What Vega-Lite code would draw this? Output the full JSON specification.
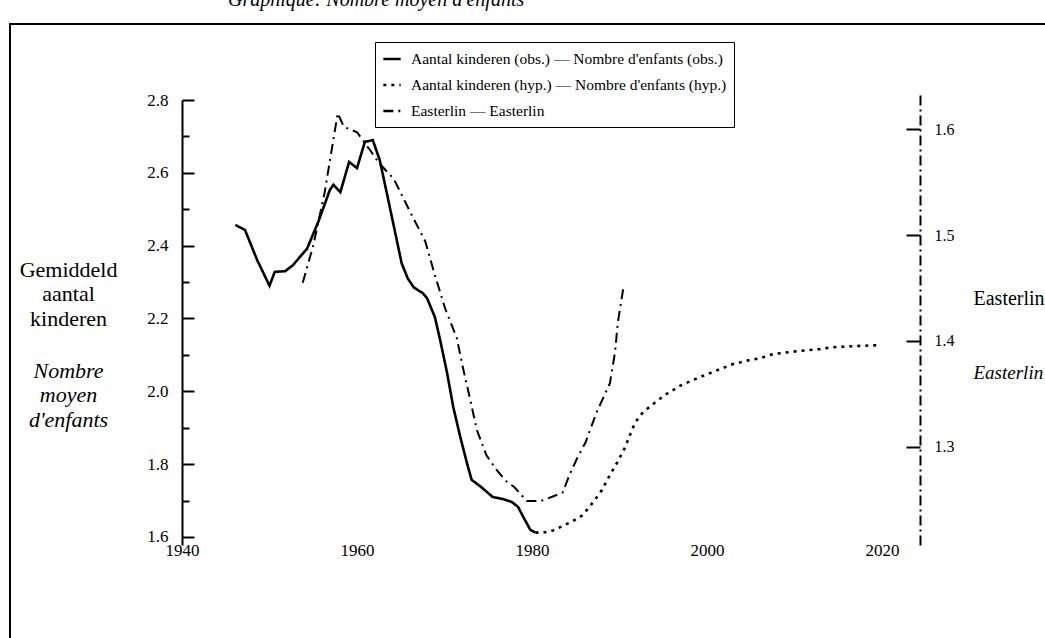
{
  "$schema": "https://vega.github.io/schema/vega-lite/v6.json",
  "width": 1040,
  "height": 620,
  "autosize": "none",
  "padding": {"left": 10, "top": 24, "right": 0, "bottom": 0},
  "background": "white",
  "config": {
    "font": "Liberation Serif",
    "view": {"stroke": "black", "strokeWidth": 2},
    "axis": {
      "labelFont": "Liberation Serif",
      "titleFont": "Liberation Serif",
      "domainColor": "black",
      "tickColor": "black",
      "labelColor": "black",
      "titleColor": "black",
      "grid": false,
      "titleFontWeight": "normal",
      "labelFontSize": 17,
      "titleFontSize": 22,
      "titleLineHeight": 24.5
    },
    "legend": {
      "labelFont": "Liberation Serif",
      "labelColor": "black"
    }
  },
  "title": {
    "text": "Graphique: Nombre moyen d'enfants",
    "anchor": "start",
    "frame": "group",
    "dx": 218,
    "dy": 6,
    "offset": 4,
    "baseline": "alphabetic",
    "font": "Liberation Serif",
    "fontStyle": "italic",
    "fontWeight": "normal",
    "fontSize": 20,
    "color": "black"
  },
  "datasets": {
    "fert": [
      {"year": 1946.1, "value": 2.457, "series": "Aantal kinderen (obs.) — Nombre d'enfants (obs.)"},
      {"year": 1947.2, "value": 2.443, "series": "Aantal kinderen (obs.) — Nombre d'enfants (obs.)"},
      {"year": 1948.6, "value": 2.36, "series": "Aantal kinderen (obs.) — Nombre d'enfants (obs.)"},
      {"year": 1950.0, "value": 2.29, "series": "Aantal kinderen (obs.) — Nombre d'enfants (obs.)"},
      {"year": 1950.6, "value": 2.328, "series": "Aantal kinderen (obs.) — Nombre d'enfants (obs.)"},
      {"year": 1951.8, "value": 2.33, "series": "Aantal kinderen (obs.) — Nombre d'enfants (obs.)"},
      {"year": 1952.7, "value": 2.347, "series": "Aantal kinderen (obs.) — Nombre d'enfants (obs.)"},
      {"year": 1954.3, "value": 2.392, "series": "Aantal kinderen (obs.) — Nombre d'enfants (obs.)"},
      {"year": 1955.6, "value": 2.467, "series": "Aantal kinderen (obs.) — Nombre d'enfants (obs.)"},
      {"year": 1956.9, "value": 2.553, "series": "Aantal kinderen (obs.) — Nombre d'enfants (obs.)"},
      {"year": 1957.3, "value": 2.567, "series": "Aantal kinderen (obs.) — Nombre d'enfants (obs.)"},
      {"year": 1958.1, "value": 2.547, "series": "Aantal kinderen (obs.) — Nombre d'enfants (obs.)"},
      {"year": 1959.1, "value": 2.63, "series": "Aantal kinderen (obs.) — Nombre d'enfants (obs.)"},
      {"year": 1960.0, "value": 2.613, "series": "Aantal kinderen (obs.) — Nombre d'enfants (obs.)"},
      {"year": 1960.9, "value": 2.685, "series": "Aantal kinderen (obs.) — Nombre d'enfants (obs.)"},
      {"year": 1961.8, "value": 2.69, "series": "Aantal kinderen (obs.) — Nombre d'enfants (obs.)"},
      {"year": 1962.6, "value": 2.635, "series": "Aantal kinderen (obs.) — Nombre d'enfants (obs.)"},
      {"year": 1963.5, "value": 2.534, "series": "Aantal kinderen (obs.) — Nombre d'enfants (obs.)"},
      {"year": 1964.3, "value": 2.443, "series": "Aantal kinderen (obs.) — Nombre d'enfants (obs.)"},
      {"year": 1965.1, "value": 2.352, "series": "Aantal kinderen (obs.) — Nombre d'enfants (obs.)"},
      {"year": 1965.8, "value": 2.31, "series": "Aantal kinderen (obs.) — Nombre d'enfants (obs.)"},
      {"year": 1966.5, "value": 2.285, "series": "Aantal kinderen (obs.) — Nombre d'enfants (obs.)"},
      {"year": 1967.5, "value": 2.27, "series": "Aantal kinderen (obs.) — Nombre d'enfants (obs.)"},
      {"year": 1968.0, "value": 2.256, "series": "Aantal kinderen (obs.) — Nombre d'enfants (obs.)"},
      {"year": 1968.9, "value": 2.204, "series": "Aantal kinderen (obs.) — Nombre d'enfants (obs.)"},
      {"year": 1969.5, "value": 2.141, "series": "Aantal kinderen (obs.) — Nombre d'enfants (obs.)"},
      {"year": 1970.3, "value": 2.05, "series": "Aantal kinderen (obs.) — Nombre d'enfants (obs.)"},
      {"year": 1971.0, "value": 1.957, "series": "Aantal kinderen (obs.) — Nombre d'enfants (obs.)"},
      {"year": 1971.8, "value": 1.875, "series": "Aantal kinderen (obs.) — Nombre d'enfants (obs.)"},
      {"year": 1972.6, "value": 1.8, "series": "Aantal kinderen (obs.) — Nombre d'enfants (obs.)"},
      {"year": 1973.1, "value": 1.757, "series": "Aantal kinderen (obs.) — Nombre d'enfants (obs.)"},
      {"year": 1974.2, "value": 1.737, "series": "Aantal kinderen (obs.) — Nombre d'enfants (obs.)"},
      {"year": 1975.5, "value": 1.71, "series": "Aantal kinderen (obs.) — Nombre d'enfants (obs.)"},
      {"year": 1976.7, "value": 1.704, "series": "Aantal kinderen (obs.) — Nombre d'enfants (obs.)"},
      {"year": 1977.7, "value": 1.696, "series": "Aantal kinderen (obs.) — Nombre d'enfants (obs.)"},
      {"year": 1978.4, "value": 1.683, "series": "Aantal kinderen (obs.) — Nombre d'enfants (obs.)"},
      {"year": 1979.0, "value": 1.655, "series": "Aantal kinderen (obs.) — Nombre d'enfants (obs.)"},
      {"year": 1979.8, "value": 1.62, "series": "Aantal kinderen (obs.) — Nombre d'enfants (obs.)"},
      {"year": 1980.4, "value": 1.612, "series": "Aantal kinderen (obs.) — Nombre d'enfants (obs.)"},
      {"year": 1980.4, "value": 1.612, "series": "Aantal kinderen (hyp.) — Nombre d'enfants (hyp.)"},
      {"year": 1981.3, "value": 1.612, "series": "Aantal kinderen (hyp.) — Nombre d'enfants (hyp.)"},
      {"year": 1982.4, "value": 1.618, "series": "Aantal kinderen (hyp.) — Nombre d'enfants (hyp.)"},
      {"year": 1983.5, "value": 1.63, "series": "Aantal kinderen (hyp.) — Nombre d'enfants (hyp.)"},
      {"year": 1984.7, "value": 1.644, "series": "Aantal kinderen (hyp.) — Nombre d'enfants (hyp.)"},
      {"year": 1985.8, "value": 1.66, "series": "Aantal kinderen (hyp.) — Nombre d'enfants (hyp.)"},
      {"year": 1987.0, "value": 1.696, "series": "Aantal kinderen (hyp.) — Nombre d'enfants (hyp.)"},
      {"year": 1988.0, "value": 1.729, "series": "Aantal kinderen (hyp.) — Nombre d'enfants (hyp.)"},
      {"year": 1988.9, "value": 1.77, "series": "Aantal kinderen (hyp.) — Nombre d'enfants (hyp.)"},
      {"year": 1989.7, "value": 1.803, "series": "Aantal kinderen (hyp.) — Nombre d'enfants (hyp.)"},
      {"year": 1990.6, "value": 1.844, "series": "Aantal kinderen (hyp.) — Nombre d'enfants (hyp.)"},
      {"year": 1991.2, "value": 1.88, "series": "Aantal kinderen (hyp.) — Nombre d'enfants (hyp.)"},
      {"year": 1991.8, "value": 1.915, "series": "Aantal kinderen (hyp.) — Nombre d'enfants (hyp.)"},
      {"year": 1992.7, "value": 1.943, "series": "Aantal kinderen (hyp.) — Nombre d'enfants (hyp.)"},
      {"year": 1994.1, "value": 1.97, "series": "Aantal kinderen (hyp.) — Nombre d'enfants (hyp.)"},
      {"year": 1995.2, "value": 1.99, "series": "Aantal kinderen (hyp.) — Nombre d'enfants (hyp.)"},
      {"year": 1996.9, "value": 2.015, "series": "Aantal kinderen (hyp.) — Nombre d'enfants (hyp.)"},
      {"year": 1998.4, "value": 2.031, "series": "Aantal kinderen (hyp.) — Nombre d'enfants (hyp.)"},
      {"year": 1999.5, "value": 2.042, "series": "Aantal kinderen (hyp.) — Nombre d'enfants (hyp.)"},
      {"year": 2001.5, "value": 2.061, "series": "Aantal kinderen (hyp.) — Nombre d'enfants (hyp.)"},
      {"year": 2003.0, "value": 2.075, "series": "Aantal kinderen (hyp.) — Nombre d'enfants (hyp.)"},
      {"year": 2004.9, "value": 2.086, "series": "Aantal kinderen (hyp.) — Nombre d'enfants (hyp.)"},
      {"year": 2006.1, "value": 2.091, "series": "Aantal kinderen (hyp.) — Nombre d'enfants (hyp.)"},
      {"year": 2007.5, "value": 2.102, "series": "Aantal kinderen (hyp.) — Nombre d'enfants (hyp.)"},
      {"year": 2009.5, "value": 2.108, "series": "Aantal kinderen (hyp.) — Nombre d'enfants (hyp.)"},
      {"year": 2011.4, "value": 2.113, "series": "Aantal kinderen (hyp.) — Nombre d'enfants (hyp.)"},
      {"year": 2012.9, "value": 2.116, "series": "Aantal kinderen (hyp.) — Nombre d'enfants (hyp.)"},
      {"year": 2014.4, "value": 2.121, "series": "Aantal kinderen (hyp.) — Nombre d'enfants (hyp.)"},
      {"year": 2016.7, "value": 2.124, "series": "Aantal kinderen (hyp.) — Nombre d'enfants (hyp.)"},
      {"year": 2019.8, "value": 2.127, "series": "Aantal kinderen (hyp.) — Nombre d'enfants (hyp.)"}
    ],
    "east": [
      {"year": 1953.8, "value": 1.455, "series": "Easterlin — Easterlin"},
      {"year": 1955.0, "value": 1.49, "series": "Easterlin — Easterlin"},
      {"year": 1956.3, "value": 1.54, "series": "Easterlin — Easterlin"},
      {"year": 1957.0, "value": 1.575, "series": "Easterlin — Easterlin"},
      {"year": 1957.8, "value": 1.615, "series": "Easterlin — Easterlin"},
      {"year": 1958.5, "value": 1.602, "series": "Easterlin — Easterlin"},
      {"year": 1960.0, "value": 1.597, "series": "Easterlin — Easterlin"},
      {"year": 1961.5, "value": 1.58, "series": "Easterlin — Easterlin"},
      {"year": 1962.5, "value": 1.568, "series": "Easterlin — Easterlin"},
      {"year": 1964.2, "value": 1.553, "series": "Easterlin — Easterlin"},
      {"year": 1966.0, "value": 1.523, "series": "Easterlin — Easterlin"},
      {"year": 1967.8, "value": 1.494, "series": "Easterlin — Easterlin"},
      {"year": 1968.8, "value": 1.465, "series": "Easterlin — Easterlin"},
      {"year": 1970.1, "value": 1.43, "series": "Easterlin — Easterlin"},
      {"year": 1971.4, "value": 1.403, "series": "Easterlin — Easterlin"},
      {"year": 1972.1, "value": 1.375, "series": "Easterlin — Easterlin"},
      {"year": 1972.9, "value": 1.346, "series": "Easterlin — Easterlin"},
      {"year": 1973.7, "value": 1.316, "series": "Easterlin — Easterlin"},
      {"year": 1974.8, "value": 1.292, "series": "Easterlin — Easterlin"},
      {"year": 1976.0, "value": 1.278, "series": "Easterlin — Easterlin"},
      {"year": 1977.0, "value": 1.268, "series": "Easterlin — Easterlin"},
      {"year": 1978.0, "value": 1.262, "series": "Easterlin — Easterlin"},
      {"year": 1979.4, "value": 1.249, "series": "Easterlin — Easterlin"},
      {"year": 1981.0, "value": 1.249, "series": "Easterlin — Easterlin"},
      {"year": 1982.3, "value": 1.253, "series": "Easterlin — Easterlin"},
      {"year": 1983.5, "value": 1.257, "series": "Easterlin — Easterlin"},
      {"year": 1984.3, "value": 1.274, "series": "Easterlin — Easterlin"},
      {"year": 1985.2, "value": 1.29, "series": "Easterlin — Easterlin"},
      {"year": 1986.1, "value": 1.304, "series": "Easterlin — Easterlin"},
      {"year": 1987.4, "value": 1.333, "series": "Easterlin — Easterlin"},
      {"year": 1988.9, "value": 1.36, "series": "Easterlin — Easterlin"},
      {"year": 1989.5, "value": 1.39, "series": "Easterlin — Easterlin"},
      {"year": 1989.8, "value": 1.417, "series": "Easterlin — Easterlin"},
      {"year": 1990.4, "value": 1.448, "series": "Easterlin — Easterlin"},
      {"year": 1990.7, "value": 1.453, "series": "Easterlin — Easterlin"}
    ]
  },
  "layer": [
    {
      "data": {"name": "fert"},
      "mark": {"type": "line", "color": "black", "strokeWidth": 2.6},
      "encoding": {
        "x": {
          "field": "year",
          "type": "quantitative",
          "scale": {"domain": [1940, 2024.343], "range": [172, 910], "nice": false, "zero": false},
          "axis": {
            "orient": "bottom",
            "offset": -104,
            "values": [1940, 1960, 1980, 2000, 2020],
            "format": "d",
            "domain": false,
            "ticks": false,
            "labelPadding": 2,
            "labelFlush": false,
            "labelFontSize": 17,
            "title": null
          }
        },
        "y": {
          "field": "value",
          "type": "quantitative",
          "scale": {"domain": [1.578, 2.8], "range": [521, 76], "nice": false, "zero": false},
          "axis": {
            "orient": "left",
            "offset": -172,
            "values": [1.6, 1.7, 1.8, 1.9, 2.0, 2.1, 2.2, 2.3, 2.4, 2.5, 2.6, 2.7, 2.8],
            "labelExpr": "round(datum.value*10) % 2 == 0 ? format(datum.value, '.1f') : ''",
            "tickSize": {"condition": {"test": "round(datum.value*10) % 2 == 1", "value": -7}, "value": -12},
            "tickWidth": 2,
            "domainWidth": 2,
            "labelPadding": 26,
            "title": ["Gemiddeld", "aantal", "kinderen"],
            "titleAngle": 0,
            "titleAlign": "center",
            "titleBaseline": "middle",
            "titleX": -114,
            "titleY": 245
          }
        },
        "strokeDash": {
          "field": "series",
          "type": "nominal",
          "scale": {
            "domain": ["Aantal kinderen (obs.) — Nombre d'enfants (obs.)", "Aantal kinderen (hyp.) — Nombre d'enfants (hyp.)", "Easterlin — Easterlin"],
            "range": [[1, 0], [3, 5], [10, 5, 2, 5]]
          },
          "legend": {
            "orient": "none",
            "legendX": 365,
            "legendY": 18,
            "title": null,
            "strokeColor": "black",
            "padding": 7,
            "labelFontSize": 15.5,
            "labelLimit": 0,
            "symbolType": "stroke",
            "symbolStrokeColor": "black",
            "symbolStrokeWidth": 2.5,
            "symbolSize": 300,
            "rowPadding": 7,
            "labelOffset": 9
          }
        }
      }
    },
    {
      "data": {"name": "east"},
      "mark": {"type": "line", "color": "black", "strokeWidth": 2},
      "encoding": {
        "x": {"field": "year", "type": "quantitative"},
        "y": {
          "field": "value",
          "type": "quantitative",
          "scale": {"domain": [1.2075, 1.634], "range": [521, 69], "nice": false, "zero": false},
          "axis": {
            "orient": "right",
            "offset": -130,
            "values": [1.3, 1.4, 1.5, 1.6],
            "format": ".1f",
            "tickSize": -14,
            "tickWidth": 2,
            "domainWidth": 2,
            "domainDash": [10, 4, 2, 4],
            "labelPadding": 28,
            "labelFontSize": 16,
            "title": "Easterlin",
            "titleFontSize": 20,
            "titleAngle": 0,
            "titleAlign": "left",
            "titleBaseline": "middle",
            "titleX": 53,
            "titleY": 274
          }
        },
        "strokeDash": {"field": "series", "type": "nominal"}
      }
    },
    {
      "data": {"name": "fert"},
      "mark": {"type": "point", "opacity": 0},
      "encoding": {
        "x": {"field": "year", "type": "quantitative"},
        "y": {
          "field": "value",
          "type": "quantitative",
          "axis": {
            "orient": "left",
            "offset": -172,
            "labels": false,
            "ticks": false,
            "domain": false,
            "title": ["Nombre", "moyen", "d'enfants"],
            "titleFontStyle": "italic",
            "titleAngle": 0,
            "titleAlign": "center",
            "titleBaseline": "middle",
            "titleX": -114,
            "titleY": 346
          }
        }
      }
    },
    {
      "data": {"name": "east"},
      "mark": {"type": "point", "opacity": 0},
      "encoding": {
        "x": {"field": "year", "type": "quantitative"},
        "y": {
          "field": "value",
          "type": "quantitative",
          "axis": {
            "orient": "right",
            "offset": -130,
            "labels": false,
            "ticks": false,
            "domain": false,
            "title": "Easterlin",
            "titleFontStyle": "italic",
            "titleFontSize": 19,
            "titleAngle": 0,
            "titleAlign": "left",
            "titleBaseline": "middle",
            "titleX": 53,
            "titleY": 348
          }
        }
      }
    }
  ],
  "resolve": {"scale": {"y": "independent"}, "axis": {"y": "independent"}}
}
